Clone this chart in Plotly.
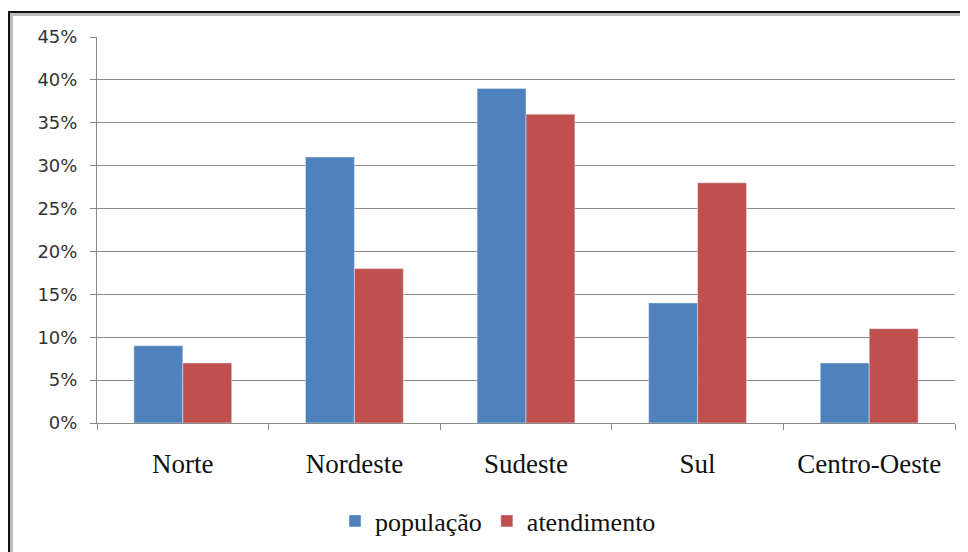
import plotly.graph_objects as go

regioes = ["Norte", "Nordeste", "Sudeste", "Sul", "Centro-Oeste"]
populacao = [0.09, 0.31, 0.39, 0.14, 0.07]
atendimento = [0.07, 0.18, 0.36, 0.28, 0.11]
tick_vals = [0, 0.05, 0.10, 0.15, 0.20, 0.25, 0.30, 0.35, 0.40, 0.45]
tick_text = ["0%", "5%", "10%", "15%", "20%", "25%", "30%", "35%", "40%", "45%"]

W, H = 968, 552
OFF = 8  # page body margin
# desired plot area in page pixels
PL, PR, PT, PB = 97, 955, 37, 423
L = PL - OFF
T = PT - OFF
R = W - (PR - OFF)
B = H - (PB - OFF)
pw, ph = W - L - R, H - T - B

def px(x):
    return (x - OFF - L) / pw

def py(y):
    return (H - B - (y - OFF)) / ph

SERIF = "Liberation Serif, Times New Roman, serif"

fig = go.Figure()
fig.add_trace(go.Bar(name="população", x=regioes, y=populacao, marker_color="#4F81BD"))
fig.add_trace(go.Bar(name="atendimento", x=regioes, y=atendimento, marker_color="#C0504D"))

shapes = [
    dict(type="path", xref="paper", yref="paper",
         path=f"M {px(11.5)} {py(600)} L {px(11.5)} {py(14.5)} L {px(1000)} {py(14.5)}",
         line=dict(color="#bdbdbd", width=3)),
    dict(type="path", xref="paper", yref="paper",
         path=f"M {px(9)} {py(600)} L {px(9)} {py(12)} L {px(1000)} {py(12)}",
         line=dict(color="#111111", width=2)),
]

fig.update_layout(
    width=W, height=H,
    margin=dict(l=L, r=R, t=T, b=B),
    font=dict(family=SERIF, color="#111111"),
    paper_bgcolor="white", plot_bgcolor="white",
    barmode="group", bargap=0.43, bargroupgap=0,
    shapes=shapes,
    showlegend=True,
    legend=dict(orientation="h", x=px(498), xanchor="center", y=py(521), yanchor="middle",
                font=dict(family=SERIF, size=26, color="#111111"),
                itemwidth=30, traceorder="normal"),
)
fig.update_xaxes(
    showline=True, linecolor="#8a8a8a", linewidth=1,
    ticks="outside", tickson="boundaries", ticklen=6, tickcolor="#8a8a8a",
    tickfont=dict(family=SERIF, size=27, color="#111111"),
    ticklabelstandoff=17, showgrid=False,
)
fig.update_yaxes(
    range=[0, 0.45], tickvals=tick_vals, ticktext=tick_text,
    showline=True, linecolor="#8a8a8a", linewidth=1,
    ticks="outside", ticklen=6, tickcolor="#8a8a8a",
    tickfont=dict(family="DejaVu Sans", size=18, color="#333333"),
    ticklabelstandoff=9,
    showgrid=True, gridcolor="#8c8c8c", gridwidth=1, zeroline=False,
)

fig.write_html("out.html")
